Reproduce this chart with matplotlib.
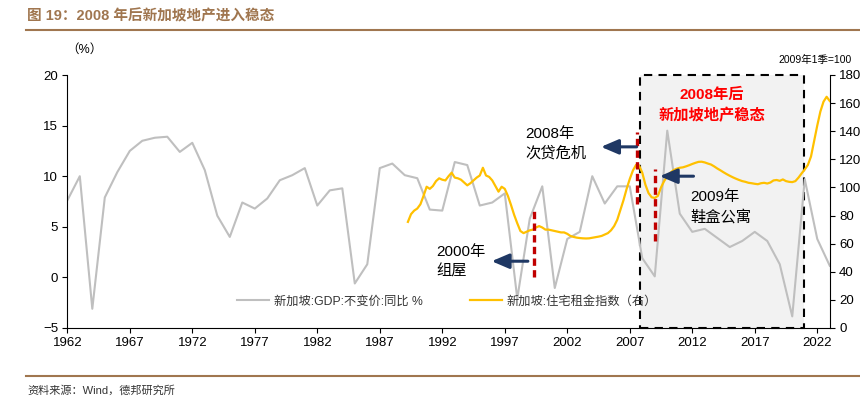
import matplotlib
matplotlib.use("Agg")
import matplotlib.pyplot as plt
from matplotlib.lines import Line2D
import numpy as np

plt.rcParams['font.family'] = ['Liberation Sans', 'Noto Sans CJK SC', 'DejaVu Sans']

# 新加坡 GDP 不变价同比 (%), 1962-2023
gdp_years = list(range(1962, 2024))
gdp = [7.6, 10.0, -3.1, 7.9, 10.4, 12.5, 13.5, 13.8, 13.9, 12.4,
       13.3, 10.6, 6.1, 4.0, 7.4, 6.8, 7.8, 9.6, 10.1, 10.8,
       7.1, 8.6, 8.8, -0.6, 1.3, 10.8, 11.25, 10.1, 9.8, 6.7,
       6.6, 11.4, 11.1, 7.1, 7.4, 8.3, -2.1, 5.8, 9.0, -1.05,
       3.8, 4.5, 10.0, 7.3, 9.0, 9.0, 1.9, 0.1, 14.5, 6.3,
       4.5, 4.8, 3.9, 3.0, 3.6, 4.5, 3.6, 1.3, -3.85, 9.7,
       3.8, 1.15]

# 住宅租金指数 (2009年1季=100), 季度, 从 1989 Q2 开始
rent_start = 1989.25
rent = [75.5, 81, 83.5,
        85, 88, 94, 100.5,
        99, 101, 104.5, 106.5,
        105.5, 105, 108, 110.5,
        107, 106.5, 105.5, 103.5,
        101.5, 103, 105, 107,
        108.5, 114, 108.5, 107.5,
        105, 101, 97, 100.5,
        99, 94, 87.5, 80.5,
        74.5, 69, 67.5, 68.5,
        69.5, 70, 71.5, 72.5,
        71.5, 70, 70, 69.5,
        69, 68.5, 68, 68,
        67, 65.5, 64.8, 64.3,
        64, 63.8, 63.7, 63.8,
        64.2, 64.6, 65, 65.5,
        66.5, 67.5, 69.5, 72.5,
        77, 84, 91, 99,
        106, 112, 116, 115.5,
        110.5, 102, 96, 93,
        92.5, 94, 100, 104.5,
        108, 110.5, 112.3, 113.3,
        114, 114.3, 115, 115.8,
        116.7, 117.5, 118.2, 118.3,
        117.8, 117, 116.3, 115,
        113.5, 112.2, 110.8, 109.5,
        108.3, 107.2, 106.2, 105.3,
        104.5, 104, 103.3, 103,
        102.6, 102.3, 103, 103.3,
        102.8, 103.5, 105, 105.3,
        104.7, 105.7, 104.5, 104,
        103.8, 104.5, 107, 110,
        112.8, 116, 122, 133,
        144, 154, 161, 164.5,
        161.5]
rent_years = rent_start + 0.25 * np.arange(len(rent))

# 事件标记 (左轴刻度)
event_x = [1999.3, 2007.6, 2009.0]
event_lo = [0.0, 7.3, 3.6]
event_hi = [7.0, 14.4, 10.7]
arrows = [((1998.85, 1.6), (1995.95, 1.6)),
          ((2007.55, 12.9), (2004.7, 12.9)),
          ((2012.1, 10.0), (2009.4, 10.0))]
span = (2007.8, 2020.9)

brown = '#a0764f'
grey = '#bfbfbf'
yellow = '#ffc000'
navy = '#1f3864'
darkred = '#c00000'

fig = plt.figure(figsize=(8.6, 3.96), dpi=100)
ax = fig.add_axes([67.3 / 860, 1 - 328 / 396, (830 - 67.3) / 860, (328 - 75) / 396])
ax2 = ax.twinx()

ax.axvspan(span[0], span[1], facecolor='#f2f2f2', edgecolor='black',
           linestyle=(0, (4, 3)), lw=1.5, zorder=0, clip_on=False)

l1, = ax.plot(gdp_years, gdp, color=grey, lw=1.5, zorder=2,
              label='新加坡:GDP:不变价:同比 %')
l2, = ax2.plot(rent_years, rent, color=yellow, lw=1.6, zorder=3,
               label='新加坡:住宅租金指数（右）')

# 左轴数值换算到右轴
to_right = lambda v: (v + 5) * 7.2

for x, lo, hi in zip(event_x, event_lo, event_hi):
    ax2.plot([x, x], [to_right(lo), to_right(hi)], color=darkred, lw=2.4,
             linestyle=(0, (2.2, 1.3)), zorder=4)

for (x0, y0), (x1, y1) in arrows:
    ax2.annotate('', xy=(x1, to_right(y1)), xytext=(x0, to_right(y0)),
                 arrowprops=dict(arrowstyle='-|>,head_length=0.75,head_width=0.32',
                                 color=navy, lw=2.2, mutation_scale=14,
                                 shrinkA=0, shrinkB=0),
                 zorder=5)

ax.set_xlim(1962, 2023.02)
ax.set_ylim(-5, 20)
ax2.set_ylim(0, 180)
ax.set_xticks(range(1962, 2023, 5))
ax.set_yticks(range(-5, 21, 5))
ax2.set_yticks(range(0, 181, 20))

for a in (ax, ax2):
    a.spines['top'].set_visible(False)
    a.tick_params(direction='out', length=3.5, width=0.8, labelsize=9.5, pad=3)
ax.spines['right'].set_visible(False)
ax2.spines['left'].set_visible(False)
ax2.spines['bottom'].set_visible(False)

txt = dict(fontsize=11, color='black', va='top', ha='left', linespacing=1.45)
ax.text(1991.55, 3.2, '2000年\n组屋', **txt)
ax.text(1998.67, 14.9, '2008年\n次贷危机', **txt)
ax.text(2011.87, 8.6, '2009年\n鞋盒公寓', **txt)
ax.text(2013.55, 18.7, '2008年后\n新加坡地产稳态', fontsize=11, color='#ff0000',
        fontweight='bold', va='top', ha='center', linespacing=1.45)

fig.legend(handles=[l1, l2], loc='center left', ncol=2, frameon=False,
           bbox_to_anchor=(226 / 860, 1 - 301.7 / 396), fontsize=8.8,
           handlelength=2.6, handletextpad=0.4, columnspacing=3.9,
           labelcolor='#333333')

fig.text(66 / 860, 1 - 50 / 396, '（%）', fontsize=9, va='center', ha='left')
fig.text(852 / 860, 1 - 60 / 396, '2009年1季=100', fontsize=7.5, va='center', ha='right')

fig.text(27 / 860, 1 - 16 / 396, '图 19：2008 年后新加坡地产进入稳态', fontsize=10.5,
         fontweight='bold', color=brown, va='center', ha='left')
fig.add_artist(Line2D([26 / 860, 1], [1 - 29.5 / 396] * 2, color=brown, lw=1.5))
fig.add_artist(Line2D([26 / 860, 1], [1 - 376 / 396] * 2, color=brown, lw=1.5))
fig.text(27 / 860, 1 - 390 / 396, '资料来源：Wind，德邦研究所', fontsize=8,
         color='#333333', va='center', ha='left')

fig.savefig('out.png', dpi=100)
